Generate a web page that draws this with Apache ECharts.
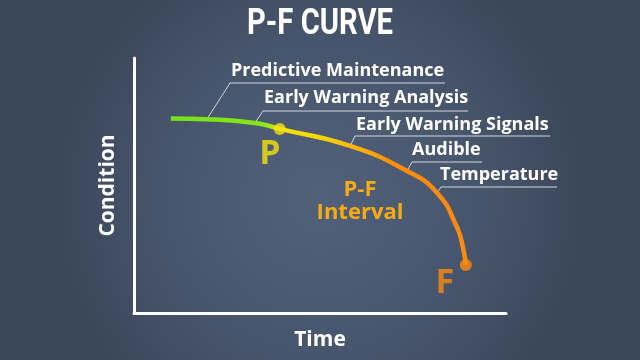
<!DOCTYPE html>
<html><head><meta charset="utf-8">
<script src="https://cdn.jsdelivr.net/npm/echarts@6/dist/echarts.min.js"></script>
<style>html,body{margin:0;padding:0;background:#435169}#c{width:640px;height:360px}</style>
</head><body><div id="c"></div>
<script>
// ---- data ----
const titleText = 'P-F CURVE';
const xAxisName = 'Time';
const yAxisName = 'Condition';
const curveX = [9.9, 19.6, 32.5, 39.2, 58.1, 73.4, 81.5, 86.8, 88.4, 89.2];
const curveY = [76.3, 76.0, 74.5, 72.2, 65.5, 55.7, 47.1, 33.7, 25.9, 18.8];
const pointNames = ['P', 'F'];
const pointX = [39.2, 89.2];
const pointY = [72.2, 18.8];
const annotationTexts = ['Predictive Maintenance', 'Early Warning Analysis', 'Early Warning Signals', 'Audible', 'Temperature'];
const annotationAnchor = [1, 2, 4, 5, 6]; // index into curve points
const intervalText = 'P-F\nInterval';

// ---- layout (pixels) ----
const annLayout = [
  {tx: 231, ty: 70.5, lx0: 230, lx1: 445, ly: 83},
  {tx: 264, ty: 97.5, lx0: 263, lx1: 468, ly: 111},
  {tx: 356, ty: 125, lx0: 355, lx1: 550, ly: 136},
  {tx: 412, ty: 150, lx0: 412, lx1: 482, ly: 162},
  {tx: 440, ty: 175, lx0: 441, lx1: 557, ly: 187}
];

const chart = echarts.init(document.getElementById('c'), null, {renderer: 'canvas'});
const curveData = curveX.map((x, i) => [x, curveY[i]]);
const pointColors = ['#f4e40a', '#ff8a0c'];
const labelOffsets = [[-10, 25], [-21, 18]];

const option = {
  backgroundColor: new echarts.graphic.RadialGradient(0.5, 0.55, 0.75, [
    {offset: 0, color: '#52617a'},
    {offset: 0.6, color: '#47556c'},
    {offset: 1, color: '#3a4659'}
  ]),
  grid: {left: 134, right: 134, top: 58, bottom: 47},
  xAxis: {
    type: 'value', min: 0, max: 100,
    name: xAxisName, nameLocation: 'middle', nameGap: 17,
    nameTextStyle: {color: '#ffffff', fontFamily: 'Open Sans', fontWeight: 'bold', fontSize: 21},
    axisLine: {show: true, lineStyle: {color: '#ffffff', width: 3}},
    axisTick: {show: false}, axisLabel: {show: false}, splitLine: {show: false}
  },
  yAxis: {
    type: 'value', min: 0, max: 100,
    name: yAxisName, nameLocation: 'middle', nameGap: 15,
    nameTextStyle: {color: '#ffffff', fontFamily: 'Open Sans', fontWeight: 'bold', fontSize: 21},
    axisLine: {show: true, lineStyle: {color: '#ffffff', width: 3}},
    axisTick: {show: false}, axisLabel: {show: false}, splitLine: {show: false}
  },
  series: [
    {
      type: 'line', data: curveData, smooth: 0.5, showSymbol: false, silent: true,
      lineStyle: {
        width: 4.5,
        color: new echarts.graphic.LinearGradient(0, 0, 1, 0, [
          {offset: 0, color: '#76e21a'},
          {offset: 0.32, color: '#86e61a'},
          {offset: 0.37, color: '#f0e40a'},
          {offset: 0.52, color: '#f6d40a'},
          {offset: 0.75, color: '#ff8c0a'},
          {offset: 1, color: '#ff8a12'}
        ])
      },
      z: 3
    },
    {
      type: 'scatter', symbolSize: 12, z: 4,
      data: pointNames.map((n, i) => ({
        name: n, value: [pointX[i], pointY[i]],
        itemStyle: {color: pointColors[i]},
        label: {color: pointColors[i]}
      })),
      label: {
        show: true, formatter: '{b}', position: 'inside',
        fontFamily: 'Open Sans', fontWeight: 'bold', fontSize: 34,
        textBorderWidth: 0, textShadowBlur: 0
      },
      labelLayout: (p) => ({dx: labelOffsets[p.dataIndex][0], dy: labelOffsets[p.dataIndex][1]})
    }
  ]
};
chart.setOption(option);

// title: condensed by horizontal scaling to match reference width
const titleFont = 'bold 36px Roboto, "DejaVu Sans", sans-serif';
const mc = document.createElement('canvas').getContext('2d');
mc.font = titleFont;
const titleW = mc.measureText(titleText).width;
const titleScale = 146 / titleW;

// annotations
const g = [{
  type: 'text', silent: true, z: 5, x: 320, y: 25, scaleX: titleScale, scaleY: 1,
  style: {x: 0, y: 0, text: titleText, fill: '#ffffff', font: titleFont, textAlign: 'center', textVerticalAlign: 'middle'}
}];
annotationTexts.forEach((t, i) => {
  const a = chart.convertToPixel({gridIndex: 0}, curveData[annotationAnchor[i]]);
  const L = annLayout[i];
  g.push({
    type: 'polyline', silent: true, z: 2,
    shape: {points: [[a[0], a[1]], [L.lx0, L.ly], [L.lx1, L.ly]]},
    style: {stroke: '#d3d7de', lineWidth: 1, fill: null}
  });
  g.push({
    type: 'text', silent: true, z: 5,
    style: {x: L.tx, y: L.ty, text: t, fill: '#ffffff', font: 'bold 18px "Open Sans"', textAlign: 'left', textVerticalAlign: 'middle'}
  });
});
g.push({
  type: 'text', silent: true, z: 5,
  style: {x: 360, y: 201, text: intervalText, fill: '#f5ac14', font: 'bold 22px "Open Sans"', textAlign: 'center', textVerticalAlign: 'middle', lineHeight: 23}
});
chart.setOption({graphic: g});
</script>
</body></html>
